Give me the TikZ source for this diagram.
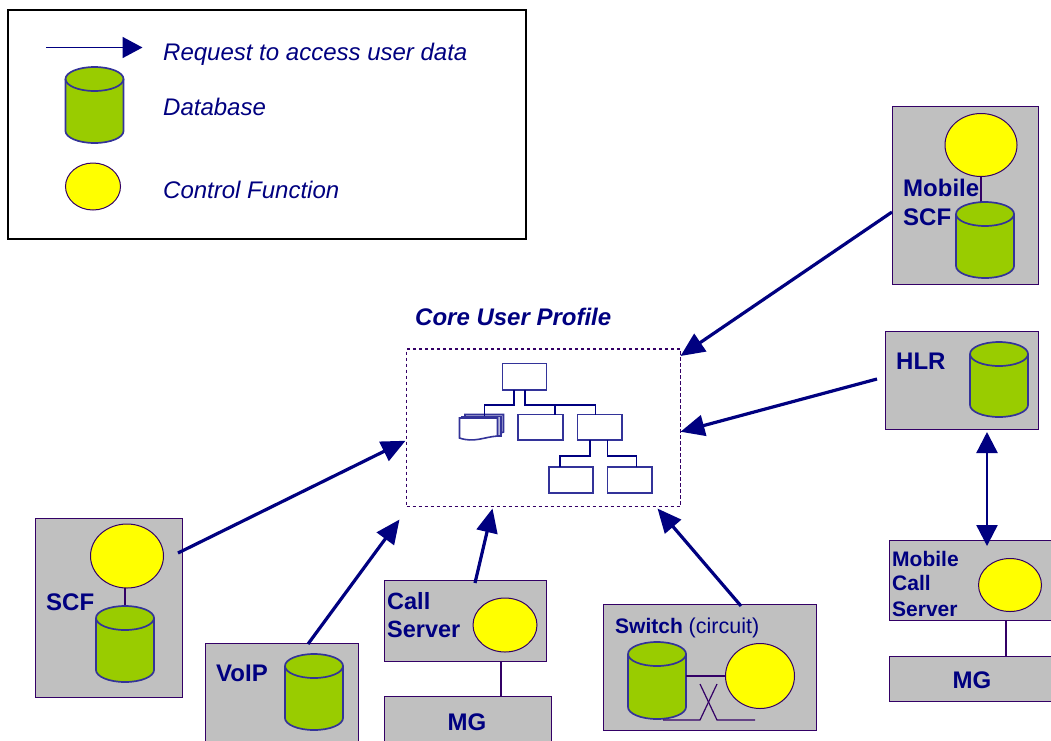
\documentclass[tikz,border=0pt]{standalone}
\usepackage{fontspec}
\setmainfont{Liberation Sans}
\usetikzlibrary{arrows.meta,calc,fit,shapes.geometric}
\definecolor{navy}{HTML}{000080}
\definecolor{edgev}{HTML}{330066}
\definecolor{dbedge}{HTML}{333399}
\definecolor{dbfill}{HTML}{99CC00}
\definecolor{boxgray}{HTML}{C0C0C0}
\definecolor{cfyellow}{HTML}{FFFF00}
\tikzset{
  graybox/.style={draw=edgev,line width=1pt,fill=boxgray,inner sep=0pt,outer sep=0pt},
  cf/.style={draw=edgev,line width=1pt,fill=cfyellow,ellipse,inner sep=0pt,outer sep=0pt},
  frame/.style={draw=edgev,line width=1.2pt},
  req/.style={draw=navy,line width=3.2pt,-{Triangle[length=24pt,width=21pt]}},
  reqboth/.style={draw=navy,line width=2.4pt,{Triangle[length=21pt,width=21pt]}-{Triangle[length=21pt,width=21pt]}},
  label/.style={text=navy,font=\fontsize{24}{28}\selectfont\bfseries,anchor=base west,inner sep=0pt},
  smalllabel/.style={text=navy,font=\fontsize{21}{25}\selectfont\bfseries,anchor=base west,inner sep=0pt},
  legendtext/.style={text=navy,font=\fontsize{24}{28}\selectfont\itshape,anchor=base west,inner sep=0pt},
  treebox/.style={draw=dbedge,line width=1.6pt,fill=white,inner sep=0pt,outer sep=0pt},
  treeline/.style={draw=navy,line width=1.7pt},
}
% name, x1, y1, x2, y2
\newcommand{\dbcyl}[5]{%
  \node[inner sep=0pt,outer sep=0pt,fit={(#2,#3)(#4,#5)}] (#1) {};
  \filldraw[draw=dbedge,fill=dbfill,line width=1.7pt]
    (#2,#3+12) -- (#2,#5-12)
    arc[start angle=180,end angle=360,x radius={(#4-#2)/2},y radius=-12]
    -- (#4,#3+12)
    arc[start angle=0,end angle=180,x radius={(#4-#2)/2},y radius=-12] -- cycle;
  \draw[dbedge,line width=1.7pt]
    (#2,#3+12) arc[start angle=180,end angle=360,x radius={(#4-#2)/2},y radius=-12];
}
\newcommand{\grect}[5]{\node[graybox,fit={(#2,#3)(#4,#5)}] (#1) {};}
\newcommand{\cfn}[5]{\node[cf,minimum width=#4*2pt,minimum height=#5*2pt] (#1) at (#2,#3) {};}
\begin{document}
\begin{tikzpicture}[x=1pt,y=-1pt]
\path[use as bounding box,clip] (0,0) rectangle (1051,740);
\fill[white] (0,0) rectangle (1051,740);

% Legend
\node[draw=black,line width=1.8pt,fill=white,inner sep=0pt,outer sep=0pt,fit={(8,10)(526,239)}] (legend) {};
\coordinate (la) at (46,47.5);
\coordinate (lb) at (142.5,47.5);
\draw[draw=navy,line width=1.7pt,-{Triangle[length=20pt,width=21pt]}] (la) -- (lb);
\node[legendtext] (t1) at (163,60) {Request to access user data};
\dbcyl{ldb}{65.5}{67}{123.5}{143}
\node[legendtext] (t2) at (163,115) {Database};
\cfn{lcf}{93}{186.5}{27.5}{23.5}
\node[legendtext] (t3) at (163,198) {Control Function};

% Core profile
\node[label,font=\fontsize{24}{28}\selectfont\bfseries\itshape] (coretitle) at (415,325) {Core User Profile};
\node[draw=edgev,line width=1.2pt,dash pattern=on 3.5pt off 2.5pt,inner sep=0pt,outer sep=0pt,fit={(406.5,349)(680.5,506.5)}] (core) {};
% Hierarchy
\node[treebox,fit={(502.5,363.5)(546.5,390)}] (h0) {};
\filldraw[treebox,fill=dbedge!35] (465,414.5) -- (503.5,414.5) -- (503.5,432) -- (498,434) -- (498,418) -- (465,418) -- cycle;
\filldraw[treebox,fill=dbedge!35] (462,416.5) -- (501,416.5) -- (501,436) -- (497,436) -- (497,418) -- (462,418) -- cycle;
\node[inner sep=0pt,outer sep=0pt,fit={(459.5,418)(497.5,440)}] (h1) {};
\filldraw[treebox,fill=white] (459.5,418) -- (497.5,418) -- (497.5,436) .. controls (484,437) and (474,443) .. (459.5,438) -- cycle;
\node[treebox,fit={(518,414.5)(563,440)}] (h2) {};
\node[treebox,fit={(577.5,414.5)(622,440)}] (h3) {};
\node[treebox,fit={(549,467)(593,493)}] (h4) {};
\node[treebox,fit={(607.5,467)(652,493)}] (h5) {};
\draw[treeline] ($(h0.south west)+(11.5,0)$) |- ($(h1.north west)+(25,-13)$) -- ($(h1.north west)+(25,-2)$);
\draw[treeline] ($(h0.south west)+(22.5,0)$) |- ($(h3.north west)+(18,-9.5)$) -- ($(h3.north west)+(18,0)$);
\draw[treeline] ($(h2.north west)+(37,-9.5)$) -- ($(h2.north west)+(37,0)$);
\draw[treeline] ($(h3.south west)+(12.5,0)$) |- ($(h4.north west)+(11,-11)$) -- ($(h4.north west)+(11,0)$);
\draw[treeline] ($(h3.south west)+(30,0)$) |- ($(h5.north west)+(29,-11)$) -- ($(h5.north west)+(29,0)$);

% Mobile SCF
\grect{mscf}{892}{106}{1038}{284}
\cfn{mscfc}{981}{145}{36}{31.5}
\draw[frame] (mscfc.south) -- (981,205);
\dbcyl{mscfd}{956}{202}{1014}{278}
\node[label] (mscft1) at (903,196) {Mobile};
\node[label] (mscft2) at (903,225) {SCF};

% HLR
\grect{hlr}{885}{331}{1038}{429}
\node[label] (hlrt) at (896,369) {HLR};
\dbcyl{hlrd}{970}{342}{1028}{417}

% Mobile call server
\grect{mcs}{889}{540}{1060}{620}
\cfn{mcsc}{1010}{585}{31.5}{26.5}
\node[smalllabel] (mcst1) at (892,566) {Mobile};
\node[smalllabel] (mcst2) at (892,590) {Call};
\node[smalllabel] (mcst3) at (892,616) {Server};
\grect{mmg}{889}{656}{1060}{701}
\node[label,anchor=base] (mmgt) at (972,688) {MG};
\draw[frame] ($(mcs.south west)+(117,0)$) -- ($(mmg.north west)+(117,0)$);

% SCF
\grect{scf}{35}{518}{182}{697}
\cfn{scfc}{127}{556}{36.5}{32}
\draw[frame] (125,588) -- (125,608);
\dbcyl{scfd}{96}{606}{154}{682}
\node[label] (scft) at (46,610) {SCF};

% VoIP
\grect{voip}{205}{643}{358}{760}
\node[label] (voipt) at (216,681) {VoIP};
\dbcyl{voipd}{285}{654}{343}{730}

% Call server
\grect{cs}{384}{580}{546}{661}
\node[label,font=\fontsize{23.5}{28}\selectfont\bfseries] (cst1) at (387,609) {Call};
\node[label,font=\fontsize{23.5}{28}\selectfont\bfseries] (cst2) at (387,637) {Server};
\cfn{csc}{505}{625}{32}{27}
\grect{csmg}{384}{696}{551}{760}
\node[label,anchor=base] (csmgt) at (467,730) {MG};
\draw[frame] ($(cs.south west)+(117,0)$) -- ($(csmg.north west)+(117,0)$);

% Switch
\grect{sw}{603}{604}{816}{730}
\node[label,font=\fontsize{21}{25}\selectfont\bfseries] (swt) at (615,633) {Switch \mdseries\fontsize{21.5}{25}\selectfont(circuit)};
\dbcyl{swd}{628}{642}{686}{719}
\cfn{swc}{760}{676}{34.5}{32.5}
\draw[frame] (swc.west -| swd.east) -- (swc.west);
\draw[frame] (663,720) -- (700,720) -- (717,684);
\draw[frame] (700,684) -- (717,720) -- (755,720);

% Requests
\draw[req] ($(mscf.west)+(0,17)$) -- ($(core.north east)+(0,7)$);
\draw[req] ($(hlr.west)+(-8,-1)$) -- ($(core.east)+(0,4)$);
\draw[req] ($(scf.north east)+(-4,35)$) -- ($(core.west)+(-1,13)$);
\draw[req] ($(voip.north west)+(103,1)$) -- ($(core.south west)+(-7,13)$);
\draw[req] ($(cs.north west)+(91,3)$) -- ($(core.south west)+(86,2)$);
\draw[req] ($(sw.north west)+(138,2)$) -- ($(core.south east)+(-23,2)$);
\draw[reqboth] ($(hlr.south west)+(102,3)$) -- ($(mcs.north west)+(98,6)$);
\end{tikzpicture}
\end{document}
